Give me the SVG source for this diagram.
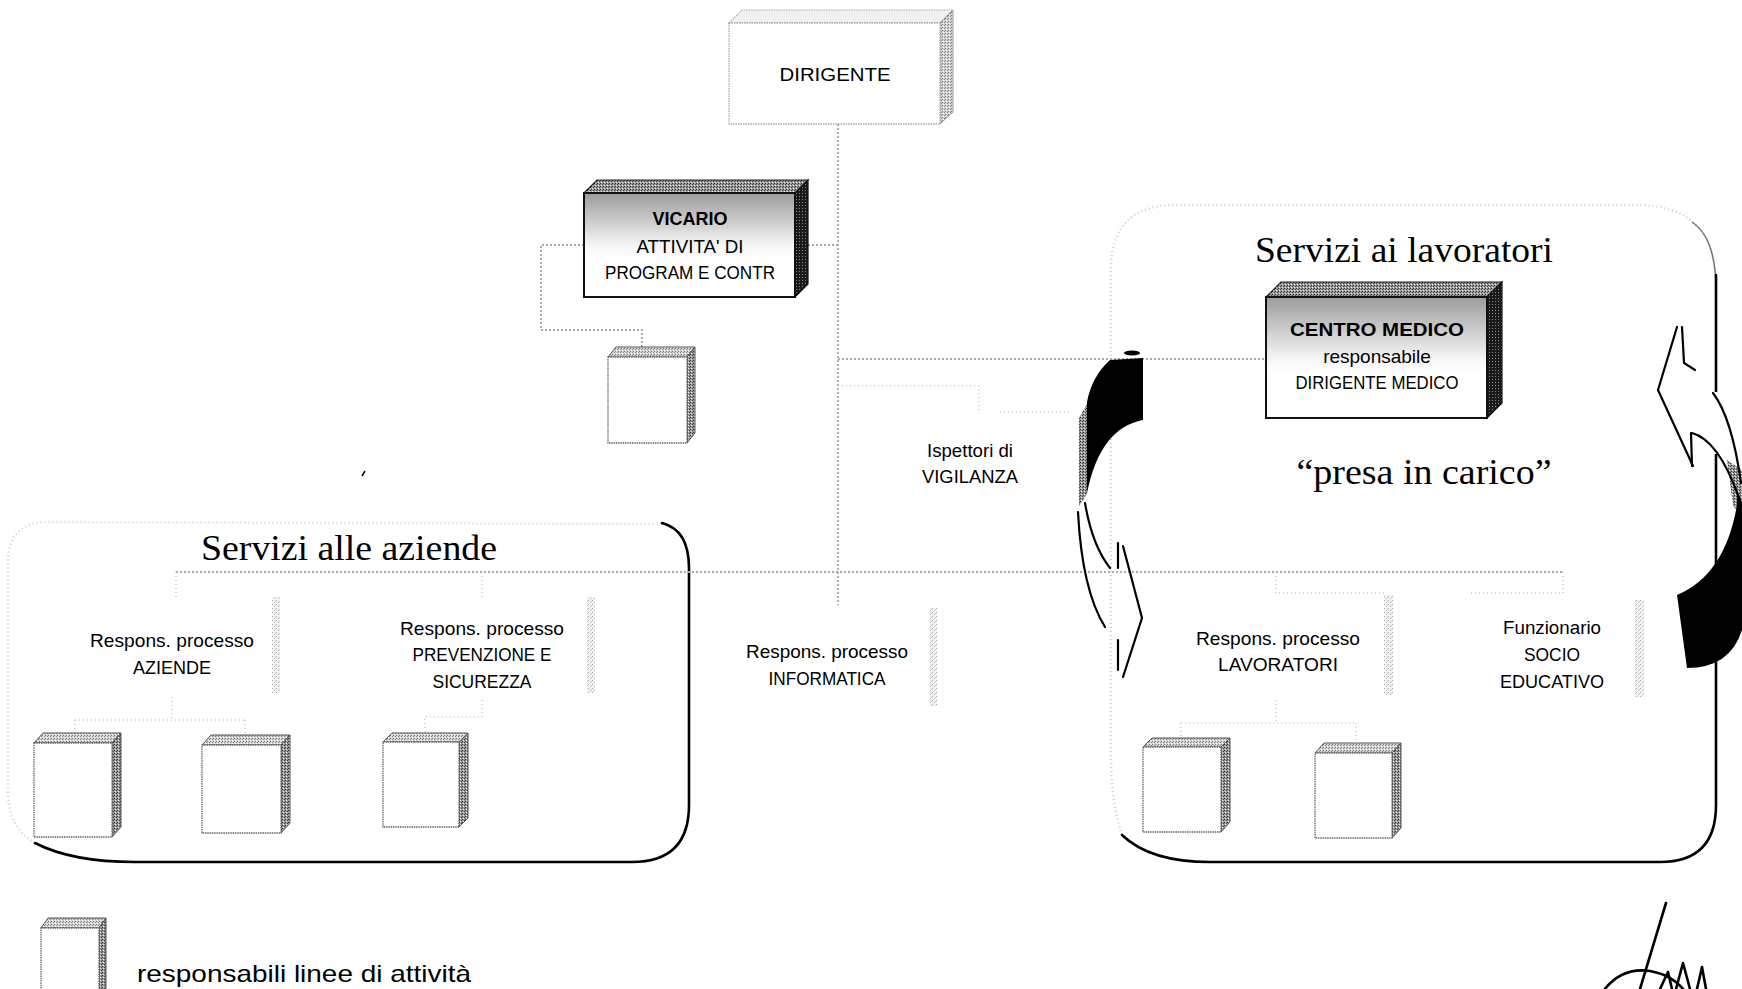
<svg xmlns="http://www.w3.org/2000/svg" width="1742" height="989" viewBox="0 0 1742 989">
<defs>
<style>
.t{font-family:"Liberation Sans",Arial,sans-serif;font-size:19px;text-anchor:middle;fill:#000}
.tb{font-weight:bold}
.title{font-family:"Liberation Serif","Times New Roman",serif;font-size:36px;text-anchor:middle;fill:#000}
.legend{font-family:"Liberation Sans",Arial,sans-serif;font-size:24px;fill:#000}
.conn{stroke:#a8a8a8;stroke-width:1.8;stroke-dasharray:2 2;fill:none}
.connf{stroke:#c8c8c8;stroke-width:1.5;stroke-dasharray:1 3;fill:none}
.border{stroke:#000;stroke-width:2.6;fill:none;stroke-linecap:round}
.faint{stroke:#cfcfcf;stroke-width:2.5;stroke-dasharray:1 3;fill:none}
.strip{fill:url(#pLight)}
.bfront{fill:#fff;stroke:#666;stroke-width:1.3;stroke-dasharray:1.5 0.8}
.btop{fill:url(#pMid);stroke:#555;stroke-width:1}
.bside{fill:url(#pDark);stroke:#555;stroke-width:1}
.arr{stroke:#000;stroke-width:2.2;fill:none;stroke-linecap:round}
</style>
<pattern id="pLight" width="4" height="4" patternUnits="userSpaceOnUse">
<rect width="4" height="4" fill="#f2f2f2"/>
<rect x="0" y="0" width="1" height="1" fill="#aaa"/>
<rect x="2" y="2" width="1" height="1" fill="#bbb"/>
<rect x="3" y="1" width="1" height="1" fill="#ccc"/>
</pattern>
<pattern id="pMid" width="3" height="3" patternUnits="userSpaceOnUse">
<rect width="3" height="3" fill="#d4d4d4"/>
<rect x="0" y="0" width="1" height="1" fill="#777"/>
<rect x="2" y="1" width="1" height="1" fill="#888"/>
<rect x="1" y="2" width="1" height="1" fill="#fff"/>
</pattern>
<pattern id="pDark" width="3" height="3" patternUnits="userSpaceOnUse">
<rect width="3" height="3" fill="#9a9a9a"/>
<rect x="0" y="0" width="1" height="1" fill="#333"/>
<rect x="2" y="1" width="1" height="1" fill="#444"/>
<rect x="1" y="2" width="1" height="1" fill="#eee"/>
</pattern>
<pattern id="pBlack" width="3" height="3" patternUnits="userSpaceOnUse">
<rect width="3" height="3" fill="#1a1a1a"/>
<rect x="1" y="1" width="1" height="1" fill="#888"/>
</pattern>
<linearGradient id="gFront" x1="0" y1="0" x2="0" y2="1">
<stop offset="0" stop-color="#9c9c9c"/>
<stop offset="0.25" stop-color="#c8c8c8"/>
<stop offset="0.5" stop-color="#f4f4f4"/>
<stop offset="0.62" stop-color="#fff"/>
</linearGradient>
</defs>
<rect width="1742" height="989" fill="#fff"/>

<!-- region outlines -->
<g id="region-aziende">
<path class="faint" d="M35,843 Q8,828 8,790 L8,562 Q8,522 48,522 L668,524"/>
<path class="border" d="M662,523 Q689,530 689,568 L689,805 Q689,862 632,862 L135,862 Q72,862 35,843"/>
<text class="title" x="349" y="560" textLength="296" lengthAdjust="spacingAndGlyphs">Servizi alle aziende</text>
</g>
<g id="region-lavoratori">
<path class="faint" d="M1122,835 Q1111,800 1111,760 L1111,270 Q1111,205 1175,205 L1640,205 Q1678,207 1692,222 Q1716,238 1716,290"/>
<path d="M1692,222 Q1716,238 1716,290" fill="none" stroke="#777" stroke-width="1.5"/>
<path class="border" d="M1716,275 L1716,805 Q1716,862 1660,862 L1210,862 Q1150,862 1122,835"/>
<text class="title" x="1404" y="262" textLength="298" lengthAdjust="spacingAndGlyphs">Servizi ai lavoratori</text>
<text class="title" x="1424" y="484" textLength="255" lengthAdjust="spacingAndGlyphs">“presa in carico”</text>
</g>

<!-- connectors -->
<g id="connectors">
<path class="conn" d="M838,124 L838,605"/>
<path class="conn" d="M808,245 L838,245"/>
<path class="conn" d="M584,245 L541,245 L541,330 L642,330 L642,347"/>
<path class="conn" d="M838,359 L1266,359"/>
<path class="connf" d="M838,386 L979,386 L979,410"/>
<path class="connf" d="M1000,412 L1070,412"/>
<path class="conn" d="M176,572 L1563,572"/>
<path class="connf" d="M176,572 L176,597"/>
<path class="connf" d="M482,572 L482,597"/>
<path class="connf" d="M1276,572 L1276,593 L1384,593"/>
<path class="connf" d="M1563,572 L1563,593 L1468,593"/>
<path class="connf" d="M172,697 L172,720 M75,720 L245,720 M75,720 L75,733 M245,720 L245,735"/>
<path class="connf" d="M482,700 L482,717 L425,717 L425,733"/>
<path class="connf" d="M1276,700 L1276,723 M1181,723 L1356,723 M1181,723 L1181,738 M1356,723 L1356,743"/>
<rect class="strip" x="272" y="597" width="8" height="96"/>
<rect class="strip" x="587" y="597" width="8" height="96"/>
<rect class="strip" x="929" y="608" width="8" height="98"/>
<rect class="strip" x="1384" y="595" width="9" height="100"/>
<rect class="strip" x="1635" y="600" width="9" height="97"/>
</g>

<!-- nodes -->
<g id="n-dirigente">
<polygon points="729,23 742,10 953,10 940,23" fill="#f0f0f0" stroke="#aaa" stroke-width="1.2" stroke-dasharray="1.5 1"/>
<polygon points="940,23 953,10 953,112 940,124" fill="url(#pMid)" stroke="#999" stroke-width="1"/>
<rect x="729" y="23" width="211" height="101" fill="#fff" stroke="#aaa" stroke-width="1.3" stroke-dasharray="1.5 1"/>
<text class="t" x="835" y="81" font-size="20.5" textLength="111" lengthAdjust="spacingAndGlyphs">DIRIGENTE</text>
</g>

<g id="n-vicario">
<polygon points="584,193 597,180 808,180 795,193" fill="url(#pDark)" stroke="#222" stroke-width="1.2"/>
<polygon points="795,193 808,180 808,284 795,297" fill="url(#pBlack)" stroke="#111" stroke-width="1.2"/>
<rect x="584" y="193" width="211" height="104" fill="url(#gFront)" stroke="#111" stroke-width="2"/>
<text class="t tb" x="690" y="225" textLength="75" lengthAdjust="spacingAndGlyphs">VICARIO</text>
<text class="t" x="690" y="253" textLength="107" lengthAdjust="spacingAndGlyphs">ATTIVITA' DI</text>
<text class="t" x="690" y="279" textLength="170" lengthAdjust="spacingAndGlyphs">PROGRAM E CONTR</text>
</g>

<g id="n-vicario-sub">
<polygon class="btop" points="608,357 616,347 695,347 687,357"/>
<polygon class="bside" points="687,357 695,347 695,433 687,443"/>
<rect class="bfront" x="608" y="357" width="79" height="86"/>
</g>

<g id="n-centro-medico">
<polygon points="1266,297 1281,282 1502,282 1487,297" fill="url(#pDark)" stroke="#222" stroke-width="1.2"/>
<polygon points="1487,297 1502,282 1502,403 1487,418" fill="url(#pBlack)" stroke="#111" stroke-width="1.2"/>
<rect x="1266" y="297" width="221" height="121" fill="url(#gFront)" stroke="#111" stroke-width="2"/>
<text class="t tb" x="1377" y="336" font-size="20" textLength="174" lengthAdjust="spacingAndGlyphs">CENTRO MEDICO</text>
<text class="t" x="1377" y="363">responsabile</text>
<text class="t" x="1377" y="389" textLength="163" lengthAdjust="spacingAndGlyphs">DIRIGENTE MEDICO</text>
</g>

<g id="n-vigilanza">
<text class="t" x="970" y="457" textLength="86" lengthAdjust="spacingAndGlyphs">Ispettori di</text>
<text class="t" x="970" y="483" textLength="96" lengthAdjust="spacingAndGlyphs">VIGILANZA</text>
</g>

<g id="n-aziende">
<text class="t" x="172" y="647" textLength="164" lengthAdjust="spacingAndGlyphs">Respons. processo</text>
<text class="t" x="172" y="674" textLength="78" lengthAdjust="spacingAndGlyphs">AZIENDE</text>
</g>

<g id="n-prevenzione">
<text class="t" x="482" y="635" textLength="164" lengthAdjust="spacingAndGlyphs">Respons. processo</text>
<text class="t" x="482" y="661" textLength="139" lengthAdjust="spacingAndGlyphs">PREVENZIONE E</text>
<text class="t" x="482" y="688" textLength="99" lengthAdjust="spacingAndGlyphs">SICUREZZA</text>
</g>

<g id="n-informatica">
<text class="t" x="827" y="658" textLength="162" lengthAdjust="spacingAndGlyphs">Respons. processo</text>
<text class="t" x="827" y="685" textLength="117" lengthAdjust="spacingAndGlyphs">INFORMATICA</text>
</g>

<g id="n-lavoratori">
<text class="t" x="1278" y="645" textLength="164" lengthAdjust="spacingAndGlyphs">Respons. processo</text>
<text class="t" x="1278" y="671" textLength="120" lengthAdjust="spacingAndGlyphs">LAVORATORI</text>
</g>

<g id="n-socio">
<text class="t" x="1552" y="634" textLength="98" lengthAdjust="spacingAndGlyphs">Funzionario</text>
<text class="t" x="1552" y="661" textLength="56" lengthAdjust="spacingAndGlyphs">SOCIO</text>
<text class="t" x="1552" y="688" textLength="104" lengthAdjust="spacingAndGlyphs">EDUCATIVO</text>
</g>

<g id="n-box-az1">
<polygon class="btop" points="34,743 43,733 121,733 112,743"/>
<polygon class="bside" points="112,743 121,733 121,827 112,837"/>
<rect class="bfront" x="34" y="743" width="78" height="94"/>
</g>
<g id="n-box-az2">
<polygon class="btop" points="202,745 211,735 290,735 281,745"/>
<polygon class="bside" points="281,745 290,735 290,823 281,833"/>
<rect class="bfront" x="202" y="745" width="79" height="88"/>
</g>
<g id="n-box-prev1">
<polygon class="btop" points="383,742 392,733 468,733 459,742"/>
<polygon class="bside" points="459,742 468,733 468,818 459,827"/>
<rect class="bfront" x="383" y="742" width="76" height="85"/>
</g>
<g id="n-box-lav1">
<polygon class="btop" points="1143,747 1152,738 1230,738 1221,747"/>
<polygon class="bside" points="1221,747 1230,738 1230,822 1221,832"/>
<rect class="bfront" x="1143" y="747" width="78" height="85"/>
</g>
<g id="n-box-lav2">
<polygon class="btop" points="1315,753 1324,743 1401,743 1392,753"/>
<polygon class="bside" points="1392,753 1401,743 1401,828 1392,838"/>
<rect class="bfront" x="1315" y="753" width="77" height="85"/>
</g>

<!-- circular arrows -->
<g id="arrow-left">
<ellipse cx="1132" cy="353" rx="8" ry="2.5" fill="#000"/>
<polygon points="1079,418 1087,404 1087,494 1079,506" fill="url(#pDark)"/>
<path d="M1110,360 L1143,358 L1143,420 Q1100,428 1087,493 L1087,402 Q1092,376 1110,360 Z" fill="#000"/>
<path class="arr" d="M1078,512 Q1082,590 1105,627"/>
<path class="arr" d="M1085,503 Q1092,545 1110,568"/>
<path class="arr" d="M1118,543 L1118,568"/>
<path class="arr" d="M1123,546 L1142,618 L1123,677"/>
<path class="arr" d="M1118,640 L1118,670"/>
</g>
<g id="arrow-right">
<polygon points="1727,460 1742,470 1742,520 1733,505" fill="url(#pDark)"/>
<path d="M1737,493 Q1742,498 1742,505 L1742,630 Q1730,668 1687,668 L1677,595 Q1725,575 1737,505 Z" fill="#000"/>
<rect x="1712" y="392" width="8" height="62" fill="#fff"/>
<path class="arr" d="M1677,327 L1658,390" stroke-width="3"/>
<path class="arr" d="M1658,390 L1693,466"/>
<path class="arr" d="M1682,327 L1684,363 L1695,370"/>
<path class="arr" d="M1691,433 L1692,466"/>
<path class="arr" d="M1692,433 Q1718,440 1738,495"/>
<path class="arr" d="M1713,393 Q1732,418 1741,483"/>
</g>

<!-- legend -->
<g id="legend">
<polygon class="btop" points="41,928 48,918 106,918 99,928"/>
<polygon class="bside" points="99,928 106,918 106,989 99,995"/>
<rect class="bfront" x="41" y="928" width="58" height="70"/>
<text class="legend" x="137" y="982" textLength="334" lengthAdjust="spacingAndGlyphs">responsabili linee di attività</text>
</g>

<!-- marks -->
<path d="M365,471 L362,476" stroke="#000" stroke-width="1.5"/>
<g id="signature" fill="none" stroke="#000" stroke-width="2.6" stroke-linecap="round" stroke-linejoin="round">
<path d="M1666,903 L1640,989"/>
<path d="M1604,990 Q1622,967 1650,971 Q1672,975 1684,990"/>
<path d="M1660,989 L1668,972 L1672,989 M1676,989 L1683,963 L1690,989 M1697,989 L1702,967 L1706,989"/>
</g>
</svg>
